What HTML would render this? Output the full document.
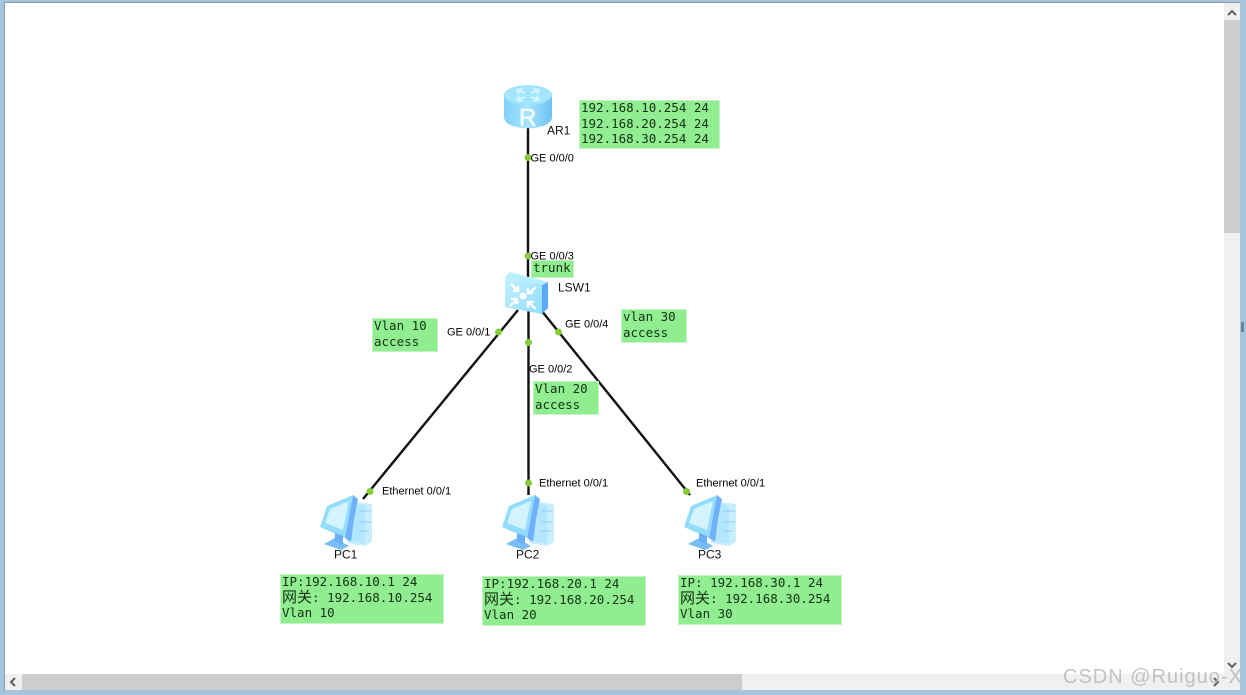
<!DOCTYPE html>
<html><head><meta charset="utf-8"><style>
html,body{margin:0;padding:0;background:#fff;width:1246px;height:695px;overflow:hidden}
svg{display:block}
.m{font-family:"DejaVu Sans Mono","Liberation Mono","Noto Sans CJK SC",monospace;font-size:12.5px;fill:#143214}
.l{font-family:"Liberation Sans",sans-serif;font-size:11px;fill:#000}
.n{font-family:"Liberation Sans",sans-serif;font-size:12px;fill:#111}
</style></head><body>
<svg width="1246" height="695" viewBox="0 0 1246 695" xmlns="http://www.w3.org/2000/svg">
<defs>
<linearGradient id="rt" x1="0" x2="1" y1="0" y2="0"><stop offset="0" stop-color="#7fd2f8"/><stop offset=".5" stop-color="#a8e4fd"/><stop offset="1" stop-color="#6cc2f3"/></linearGradient>
<linearGradient id="sw" x1="0" x2="1" y1="0" y2="1"><stop offset="0" stop-color="#c4f1ff"/><stop offset="1" stop-color="#8edcff"/></linearGradient>
<g id="pc">
<path d="M28 6 L51 9 L51 47 L44 51 L26 48 Z" fill="#c9efff"/>
<path d="M30 8 L44 10 L44 49 L30 46 Z" fill="#b4e6ff"/>
<path d="M38 16h12M38 27h12M38 36h10" stroke="#8ecdf6" stroke-width="1"/>
<path d="M32 0 L37 4 L33 24 L30 47 L24 43 Z" fill="#6fb2fb"/>
<path d="M6 11 L32 0 L24 43 L-1 32 Z" fill="#93dcfc"/>
<path d="M9 14 L28 6 L22 35 L4 28 Z" fill="#d3f3fd"/>
<path d="M3 49 L14 43 L28 51 L20 55 Z" fill="#79bdfb"/>
<path d="M14 38 L22 41 L22 50 L14 46 Z" fill="#6aaef8"/>
</g>
</defs>
<rect width="1246" height="695" fill="#a6c4dc"/>
<rect x="5" y="3" width="1235" height="687" fill="#fff"/>
<rect x="4" y="2" width="1236" height="1" fill="#8a9aa8"/>
<rect x="4" y="2" width="1" height="689" fill="#8a9aa8"/>

<!-- scrollbars -->
<rect x="1224" y="3" width="16" height="671" fill="#f0f0f0"/>
<rect x="1224" y="20" width="16" height="213" fill="#cdcdcd"/>
<rect x="5" y="674" width="1219" height="16" fill="#f0f0f0"/>
<rect x="22" y="674" width="720" height="16" fill="#cdcdcd"/>
<rect x="1224" y="674" width="16" height="16" fill="#f0f0f0"/>
<path d="M1228 15 L1232 11 L1236 15" fill="none" stroke="#606060" stroke-width="2"/>
<path d="M1228 663 L1232 667 L1236 663" fill="none" stroke="#606060" stroke-width="2"/>
<path d="M15 678 L11 682 L15 686" fill="none" stroke="#606060" stroke-width="2"/>
<path d="M1214 678 L1218 682 L1214 686" fill="none" stroke="#606060" stroke-width="2"/>
<rect x="1241" y="322" width="3" height="10" fill="#6f8598"/>

<!-- links -->
<g stroke="#111" stroke-width="2.400" fill="none">
<line x1="528" y1="120" x2="528" y2="280"/>
<line x1="528.500" y1="310" x2="528.500" y2="495"/>
<line x1="518" y1="310" x2="363" y2="499"/>
<line x1="541" y1="310" x2="690" y2="495"/>
</g>

<!-- router -->
<g>
<path d="M504 95 V117 C504 132 552 132 552 117 V95 Z" fill="url(#rt)"/>
<ellipse cx="528" cy="95" rx="24" ry="10" fill="#a3e5fd"/>
<g stroke="#d8f5ff" stroke-width="2" fill="none">
<path d="M517 90l8 3M517 90l2 4M517 90l5-1"/>
<path d="M539 90l-8 3M539 90l-2 4M539 90l-5-1"/>
<path d="M517 100l8-3M517 100l2-4M517 100l5 1"/>
<path d="M539 100l-8-3M539 100l-2-4M539 100l-5 1"/>
</g>
<text x="519" y="125.500" font-family="Liberation Sans, sans-serif" font-size="24" fill="#f0fbff" stroke="#f0fbff" stroke-width=".7">R</text>
</g>

<!-- switch -->
<g>
<path d="M505 277 L510 272 L548 282 L542 285 Z" fill="#b6efff"/>
<path d="M542 285 L548 282 L548 308 L542 314 Z" fill="#5aa8f8"/>
<path d="M505 277 L542 285 L542 314 L505 307 Z" fill="url(#sw)"/>
<circle cx="523" cy="296" r="3.500" fill="#fff"/>
<g stroke="#fff" stroke-width="2.400" fill="none">
<path d="M511 284l7 7M518 286v5h-5M536 287l-7 6M528 288v5h5M510 306l7-6M511 299h6v5M536 309l-7-6M528 308v-6h6"/>
</g>
</g>

<!-- PCs -->
<use href="#pc" x="321" y="495"/>
<use href="#pc" x="503" y="495"/>
<use href="#pc" x="685" y="495"/>

<!-- port dots -->
<g fill="#84cc3a">
<circle cx="528" cy="157.500" r="3.500"/>
<circle cx="528" cy="256" r="3.500"/>
<circle cx="498.500" cy="332" r="3.500"/>
<circle cx="528.500" cy="342.500" r="3.500"/>
<circle cx="558.500" cy="332" r="3.500"/>
<circle cx="370" cy="491.500" r="3.500"/>
<circle cx="528.500" cy="483" r="3.500"/>
<circle cx="686.500" cy="491.500" r="3.500"/>
</g>

<!-- green boxes -->
<g fill="#90ee90" stroke="#c4f3c4" stroke-width="1">
<rect x="579.500" y="100.500" width="140" height="48"/>
<rect x="531.500" y="260.500" width="42" height="17"/>
<rect x="372.500" y="318.500" width="65" height="33"/>
<rect x="621.500" y="309.500" width="65" height="33"/>
<rect x="533.500" y="381.500" width="65" height="33"/>
<rect x="280.500" y="574.500" width="163" height="49"/>
<rect x="482.500" y="576.500" width="163" height="49"/>
<rect x="678.500" y="575.500" width="163" height="49"/>
</g>

<!-- box text -->
<g class="m">
<text class="m" x="581" y="112">192.168.10.254 24</text>
<text class="m" x="581" y="128">192.168.20.254 24</text>
<text class="m" x="581" y="143">192.168.30.254 24</text>
<text class="m" x="533" y="272">trunk</text>
<text class="m" x="374" y="330">Vlan 10</text>
<text class="m" x="374" y="346">access</text>
<text class="m" x="623" y="321">vlan 30</text>
<text class="m" x="623" y="337">access</text>
<text class="m" x="535" y="393">Vlan 20</text>
<text class="m" x="535" y="409">access</text>
<text class="m" x="282" y="586">IP:192.168.10.1 24</text>
<text class="m" x="282" y="602"><tspan font-size="15">网关</tspan>: 192.168.10.254</text>
<text class="m" x="282" y="617">Vlan 10</text>
<text class="m" x="484" y="588">IP:192.168.20.1 24</text>
<text class="m" x="484" y="604"><tspan font-size="15">网关</tspan>: 192.168.20.254</text>
<text class="m" x="484" y="619">Vlan 20</text>
<text class="m" x="680" y="587">IP: 192.168.30.1 24</text>
<text class="m" x="680" y="603"><tspan font-size="15">网关</tspan>: 192.168.30.254</text>
<text class="m" x="680" y="618">Vlan 30</text>
</g>

<!-- port labels -->
<text class="l" x="530.500" y="161.500">GE 0/0/0</text>
<text class="l" x="530.500" y="259.500">GE 0/0/3</text>
<text class="l" x="447" y="335.500">GE 0/0/1</text>
<text class="l" x="565" y="327.500">GE 0/0/4</text>
<text class="l" x="529" y="372.500">GE 0/0/2</text>
<text class="l" x="382" y="494.500">Ethernet 0/0/1</text>
<text class="l" x="539" y="486.500">Ethernet 0/0/1</text>
<text class="l" x="696" y="486.500">Ethernet 0/0/1</text>

<!-- device names -->
<text class="n" x="547" y="134.500">AR1</text>
<text class="n" x="558" y="291.500">LSW1</text>
<text class="n" x="334" y="558.500">PC1</text>
<text class="n" x="516" y="558.500">PC2</text>
<text class="n" x="698" y="558.500">PC3</text>

<!-- watermark -->
<text x="1063" y="683" font-family="Liberation Sans, sans-serif" font-size="20" letter-spacing="1" fill="#b8b8b8" fill-opacity=".85">CSDN @Ruiguo-X</text>
</svg>
</body></html>
